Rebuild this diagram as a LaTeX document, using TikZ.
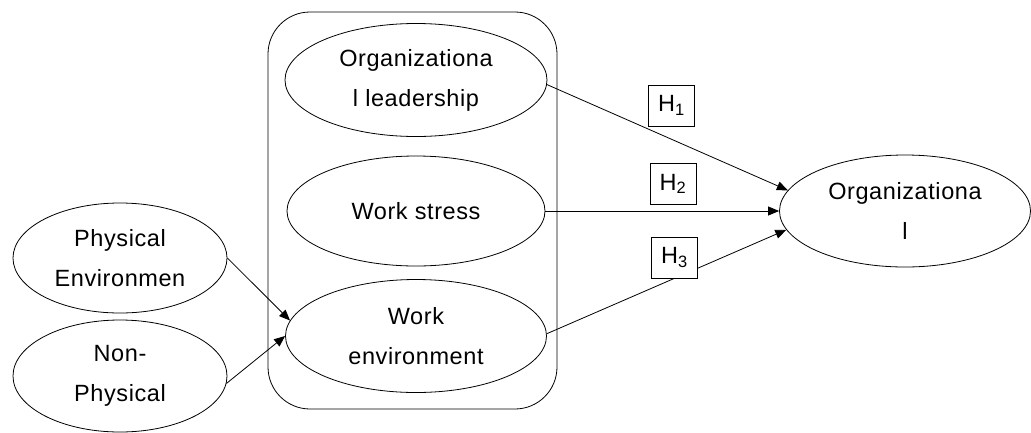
\documentclass[tikz,border=0pt]{standalone}
\usepackage{fontspec}
\setmainfont[LetterSpace=2.5]{Liberation Sans}
\usetikzlibrary{shapes.geometric,arrows.meta}
\begin{document}
\begin{tikzpicture}[x=1pt,y=-1pt,
  construct/.style={draw,ellipse,line width=0.8pt,inner sep=0pt,align=center,
    font=\fontsize{23.5}{40}\selectfont},
  hyp/.style={draw,fill=white,line width=0.8pt,inner sep=0pt,minimum width=46pt,
    minimum height=41pt,font=\fontsize{23.5}{24}\selectfont},
  link/.style={line width=0.8pt,-{Triangle[length=11pt,width=9pt]}}]
\useasboundingbox (0,0) rectangle (1031,432);
% grouping frame around the three mediating constructs
\draw[line width=0.8pt,rounded corners=42pt] (268,12) rectangle (557,409);
% constructs
\node[construct,minimum width=262pt,minimum height=113pt] (lead) at (416,80) {Organizationa\\l leadership};
\node[construct,minimum width=258pt,minimum height=110pt] (stress) at (416,211) {Work stress};
\node[construct,minimum width=261pt,minimum height=113pt] (env) at (416,336) {Work\\environment};
\node[construct,minimum width=214pt,minimum height=110pt] (phys) at (120,258) {Physical\\Environmen};
\node[construct,minimum width=214pt,minimum height=112pt] (nonphys) at (120,376) {Non-\\Physical};
\node[construct,minimum width=251pt,minimum height=112pt] (org) at (905,211) {Organizationa\\l};
% paths
\draw[link] (lead.-2) -- (org.170);
\draw[link] (stress.east) -- (org.west);
\draw[link] (env.1) -- (org.189);
\draw[link] (phys.east) -- (env.173);
\draw[link] (nonphys.-4) -- (env.180);
% hypothesis labels
\node[hyp] (h1) at (671.5,105.5) {H\textsubscript{1}};
\node[hyp] (h2) at (673,184) {H\textsubscript{2}};
\node[hyp] (h3) at (674.5,257.5) {H\textsubscript{3}};
\end{tikzpicture}
\end{document}
